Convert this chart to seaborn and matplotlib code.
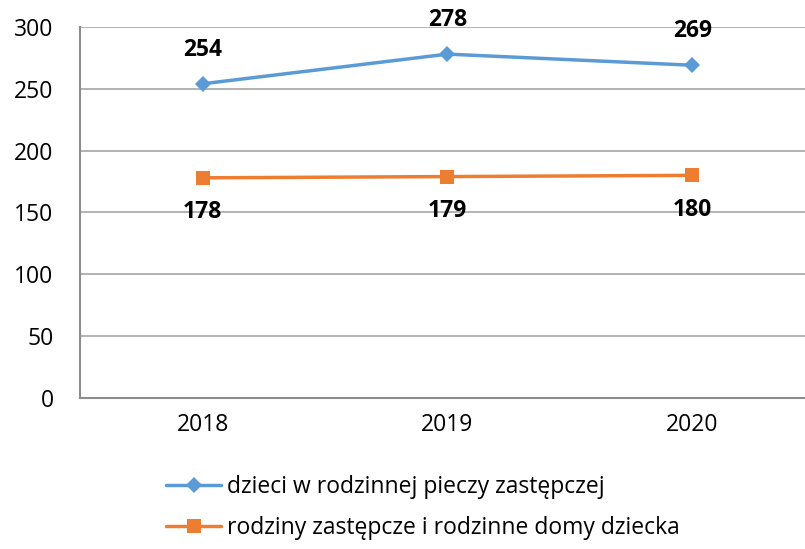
import numpy as np
import pandas as pd
import matplotlib.pyplot as plt
import seaborn as sns

# Data
years = ['2018', '2019', '2020']
dzieci = [254, 278, 269]
rodziny = [178, 179, 180]
series_names = ['dzieci w rodzinnej pieczy zastępczej',
                'rodziny zastępcze i rodzinne domy dziecka']

df = pd.DataFrame({
    'rok': years * 2,
    'wartosc': dzieci + rodziny,
    'seria': [series_names[0]] * 3 + [series_names[1]] * 3,
})

sns.set_style('white')
plt.rcParams['font.family'] = ['Open Sans', 'DejaVu Sans']
plt.rcParams['text.color'] = 'black'

fig = plt.figure(figsize=(8.05, 5.49), dpi=100)
ax = fig.add_axes([0.0994, 0.275, 0.913, 0.676])

palette = {series_names[0]: '#5B9BD5', series_names[1]: '#ED7D31'}
sns.lineplot(data=df, x='rok', y='wartosc', hue='seria', style='seria',
             markers={series_names[0]: 'D', series_names[1]: 's'},
             dashes=False, palette=palette, linewidth=2.5,
             markersize=9, markeredgewidth=0, ax=ax, sort=False)

# marker sizes differ per series
sizes = {'D': 8, 's': 10.5}
for ln in ax.lines:
    m = ln.get_marker()
    if m in sizes:
        ln.set_markersize(sizes[m])

ax.set_ylim(0, 300)
ax.set_xlim(-0.5, 2.5)
ax.set_yticks(range(0, 301, 50))
ax.yaxis.grid(True, color='#A6A6A6', linewidth=1.2)
ax.set_axisbelow(True)
for s in ['top', 'right']:
    ax.spines[s].set_visible(False)
for s in ['left', 'bottom']:
    ax.spines[s].set_color('#8C8C8C')
    ax.spines[s].set_linewidth(1.5)
ax.tick_params(axis='both', length=0, labelsize=16.5, colors='black')
ax.tick_params(axis='y', pad=19)
ax.tick_params(axis='x', pad=11)
ax.set_xlabel('')
ax.set_ylabel('')

for i, v in enumerate(dzieci):
    ax.annotate(str(v), (i, v), xytext=(0, 16), textcoords='offset points',
                ha='center', va='bottom', fontsize=16.5, fontweight='bold')
for i, v in enumerate(rodziny):
    ax.annotate(str(v), (i, v), xytext=(0, -16), textcoords='offset points',
                ha='center', va='top', fontsize=16.5, fontweight='bold')

handles, labels = ax.get_legend_handles_labels()
for h in handles:
    m = h.get_marker()
    if m in sizes:
        h.set_markersize(sizes[m])
ax.legend_.remove()
fig.legend(handles, labels, loc='upper left', bbox_to_anchor=(0.195, 0.152),
           frameon=False, fontsize=16.5, handlelength=2.4, handletextpad=0.25,
           labelspacing=0.75, borderaxespad=0)

fig.savefig('out.png', dpi=100)
